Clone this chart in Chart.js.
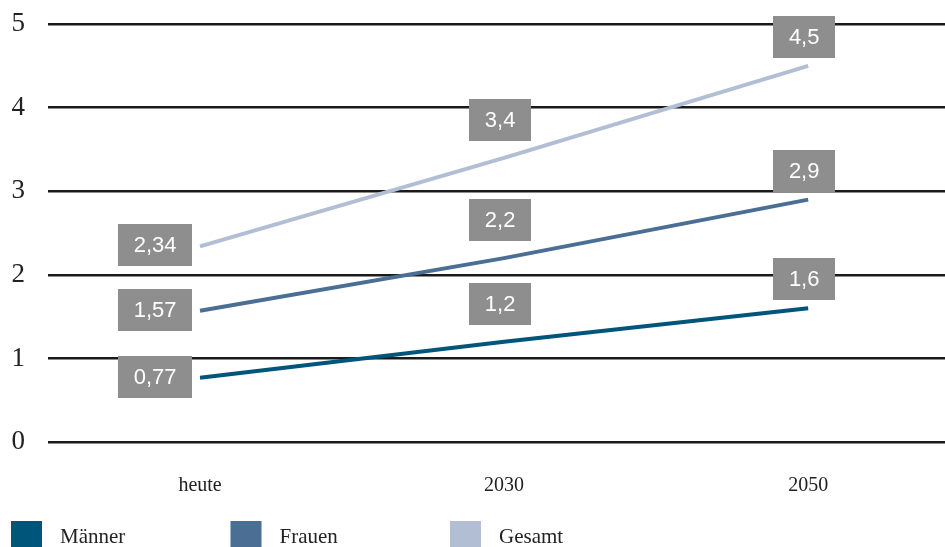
<!DOCTYPE html>
<html>
<head>
<meta charset="utf-8">
<script src="https://cdn.jsdelivr.net/npm/chart.js@4/dist/chart.umd.min.js"></script>
<style>
  html, body { margin: 0; padding: 0; background: #fff; }
  #wrap { width: 945px; height: 547px; }
</style>
</head>
<body>
<div id="wrap"><canvas id="chart" width="945" height="547"></canvas></div>
<script>
const categories = ["heute", "2030", "2050"];
const maenner = [0.77, 1.2, 1.6];
const frauen = [1.57, 2.2, 2.9];
const gesamt = [2.34, 3.4, 4.5];
const yTicks = [0, 1, 2, 3, 4, 5];

const serif = "'Liberation Serif', 'Times New Roman', serif";

function toPoints(values) {
  return values.map((v, i) => ({ x: i, y: v }));
}

function fmt(v) {
  return String(v).replace(".", ",");
}

// grey value boxes next to / above each point
const valueBoxes = {
  id: "valueBoxes",
  afterDatasetsDraw(chart) {
    const ctx = chart.ctx;
    ctx.save();
    ctx.font = "22px 'Liberation Sans', Arial, sans-serif";
    ctx.textAlign = "center";
    ctx.textBaseline = "middle";
    chart.data.datasets.forEach((ds, di) => {
      const meta = chart.getDatasetMeta(di);
      meta.data.forEach((pt, i) => {
        const txt = fmt(ds.data[i].y);
        const w = ctx.measureText(txt).width + 31;
        const h = 42;
        let cx, cy;
        if (i === 0) {
          cx = pt.x - 8 - w / 2;
          cy = pt.y - 1;
        } else {
          const gap = i === 1 ? 17 : 8;
          cx = pt.x - 4;
          cy = pt.y - gap - h / 2;
        }
        ctx.fillStyle = "#8e8e8e";
        ctx.fillRect(Math.round(cx - w / 2), Math.round(cy - h / 2), Math.round(w), h);
        ctx.fillStyle = "#ffffff";
        ctx.fillText(txt, cx, cy + 1);
      });
    });
    ctx.restore();
  }
};

// legend row at the bottom, fixed spacing
const bottomLegend = {
  id: "bottomLegend",
  afterDraw(chart) {
    const ctx = chart.ctx;
    ctx.save();
    ctx.font = "21px " + serif;
    ctx.textBaseline = "middle";
    ctx.textAlign = "left";
    chart.data.datasets.forEach((ds, i) => {
      const x = 11 + i * 219.5;
      ctx.fillStyle = ds.borderColor;
      ctx.fillRect(x, 521, 31, 28);
      ctx.fillStyle = "#222";
      ctx.fillText(ds.label, x + 49, 537);
    });
    ctx.restore();
  }
};

new Chart(document.getElementById("chart"), {
  type: "line",
  data: {
    datasets: [
      { label: "Männer", data: toPoints(maenner), borderColor: "#00557a" },
      { label: "Frauen", data: toPoints(frauen), borderColor: "#4a6e94" },
      { label: "Gesamt", data: toPoints(gesamt), borderColor: "#b2bed4" }
    ]
  },
  options: {
    responsive: false,
    animation: false,
    events: [],
    layout: { padding: { top: 0, right: 0, bottom: 17, left: 0 } },
    elements: {
      line: { borderWidth: 4, tension: 0, borderCapStyle: "butt" },
      point: { radius: 0 }
    },
    plugins: {
      legend: { display: false },
      tooltip: { enabled: false }
    },
    scales: {
      x: {
        type: "linear",
        min: -0.5,
        max: 2.45,
        grid: { display: false, drawTicks: false },
        border: { display: false },
        afterBuildTicks: axis => { axis.ticks = categories.map((c, i) => ({ value: i })); },
        ticks: {
          autoSkip: false,
          maxRotation: 0,
          padding: 32,
          color: "#222",
          font: { family: serif, size: 20 },
          callback: v => categories[v]
        }
      },
      y: {
        min: 0,
        max: 5,
        afterBuildTicks: axis => { axis.ticks = yTicks.map(v => ({ value: v })); },
        afterFit: axis => { axis.width = 48; },
        grid: { color: "#1a1a1a", lineWidth: 2.5, drawTicks: false },
        border: { display: false },
        ticks: {
          padding: 23,
          color: "#222",
          font: { family: serif, size: 27, lineHeight: 0.08 }
        }
      }
    }
  },
  plugins: [valueBoxes, bottomLegend]
});
</script>
</body>
</html>
